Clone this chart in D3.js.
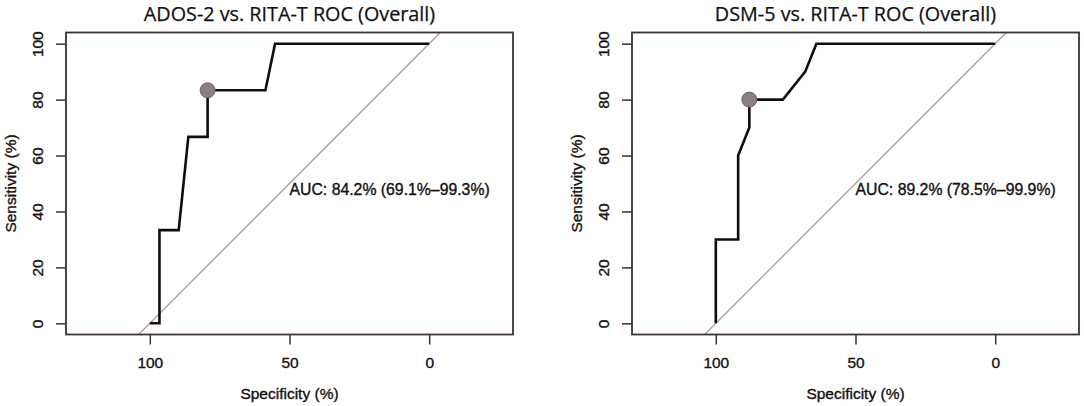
<!DOCTYPE html>
<html>
<head>
<meta charset="utf-8">
<script src="https://cdn.jsdelivr.net/npm/d3@7"></script>
<style>
  body { margin: 0; background: #fff; }
  svg { display: block; }
</style>
</head>
<body>
<svg width="1084" height="406"></svg>
<script>
  // values (specificity %, sensitivity %)
  var titles = ["ADOS-2 vs. RITA-T ROC (Overall)", "DSM-5 vs. RITA-T ROC (Overall)"];
  var aucLabels = ["AUC: 84.2% (69.1%\u201399.3%)", "AUC: 89.2% (78.5%\u201399.9%)"];

  var adosSpec = [100, 96.55, 96.55, 89.66, 86.21, 79.31, 79.31, 58.62, 55.17, 0];
  var adosSens = [0, 0, 33.33, 33.33, 66.67, 66.67, 83.33, 83.33, 100, 100];
  var dsmSpec = [100, 100, 92, 92, 88, 88, 76, 68, 64, 0];
  var dsmSens = [0, 30, 30, 60, 70, 80, 80, 90, 100, 100];

  var bestSpec = [79.31, 88];
  var bestSens = [83.33, 80];

  var specTicks = [100, 50, 0];
  var sensTicks = [0, 20, 40, 60, 80, 100];

  var curves = [
    { spec: adosSpec, sens: adosSens },
    { spec: dsmSpec, sens: dsmSens }
  ];

  var svg = d3.select("svg"),
      panelLeft = [66, 632],
      plotW = 447, plotTop = 32.5, plotH = 302,
      axisCol = "#3f3230",
      sans = "'Liberation Sans', Arial, sans-serif";

  // R-ish text: a little heavier than the plain font
  function rtext(sel, size) {
    return sel.attr("font-family", sans)
      .attr("font-size", size)
      .attr("fill", "#151010")
      .attr("stroke", "#151010")
      .attr("stroke-width", 0.35);
  }

  curves.forEach(function(c, i) {
    var x = d3.scaleLinear().domain([130, -30]).range([panelLeft[i], panelLeft[i] + plotW]);
    var y = d3.scaleLinear().domain([-4, 104]).range([plotTop + plotH, plotTop]);
    var g = svg.append("g");

    var clipId = "clip" + i;
    g.append("clipPath").attr("id", clipId)
      .append("rect")
        .attr("x", x(130)).attr("y", y(104))
        .attr("width", x(-30) - x(130)).attr("height", y(-4) - y(104));

    // chance line, sens = 100 - spec
    g.append("line")
      .attr("clip-path", "url(#" + clipId + ")")
      .attr("x1", x(104)).attr("y1", y(-4))
      .attr("x2", x(-4)).attr("y2", y(104))
      .attr("stroke", "#aa9d99")
      .attr("stroke-width", 1.3);

    var pts = c.spec.map(function(s, k) { return [s, c.sens[k]]; });
    g.append("path")
      .datum(pts)
      .attr("fill", "none")
      .attr("stroke", "#140c0c")
      .attr("stroke-width", 2.6)
      .attr("d", d3.line().x(function(d) { return x(d[0]); }).y(function(d) { return y(d[1]); }));

    g.append("circle")
      .attr("cx", x(bestSpec[i]))
      .attr("cy", y(bestSens[i]))
      .attr("r", 7.5)
      .attr("fill", "#8b7f7f")
      .attr("stroke", "#6e6362")
      .attr("stroke-width", 1);

    // box
    g.append("rect")
      .attr("x", x(130)).attr("y", y(104))
      .attr("width", x(-30) - x(130)).attr("height", y(-4) - y(104))
      .attr("fill", "none")
      .attr("stroke", axisCol)
      .attr("stroke-width", 1.8);

    var xAxis = g.append("g")
      .attr("transform", "translate(0," + y(-4) + ")")
      .call(d3.axisBottom(x).tickValues(specTicks).tickSize(10).tickPadding(12));
    var yAxis = g.append("g")
      .attr("transform", "translate(" + x(130) + ",0)")
      .call(d3.axisLeft(y).tickValues(sensTicks).tickSize(10).tickPadding(0));

    [xAxis, yAxis].forEach(function(a) {
      a.select(".domain").remove();
      a.selectAll(".tick line").attr("stroke", axisCol).attr("stroke-width", 1.5);
      rtext(a.selectAll(".tick text"), "15.5px");
    });
    yAxis.selectAll(".tick text")
      .attr("x", null).attr("dy", null)
      .attr("text-anchor", "middle")
      .attr("transform", "translate(-29,0) rotate(-90)")
      .attr("dominant-baseline", "central");

    svg.append("text")
      .attr("x", (x(130) + x(-30)) / 2)
      .attr("y", 20.5)
      .attr("text-anchor", "middle")
      .attr("font-family", "'Open Sans', sans-serif")
      .attr("font-size", "19.8px")
      .attr("fill", "#111")
      .attr("stroke", "#111")
      .attr("stroke-width", 0.25)
      .text(titles[i]);

    rtext(svg.append("text"), "15.5px")
      .attr("x", (x(130) + x(-30)) / 2)
      .attr("y", 399)
      .attr("text-anchor", "middle")
      .text("Specificity (%)");

    rtext(svg.append("text"), "15.5px")
      .attr("transform", "translate(" + (x(130) - 50) + "," + ((y(-4) + y(104)) / 2) + ") rotate(-90)")
      .attr("text-anchor", "middle")
      .text("Sensitivity (%)");

    rtext(svg.append("text"), "15.8px")
      .attr("x", x(50))
      .attr("y", y(50) + 11.5)
      .text(aucLabels[i]);
  });
</script>
</body>
</html>
